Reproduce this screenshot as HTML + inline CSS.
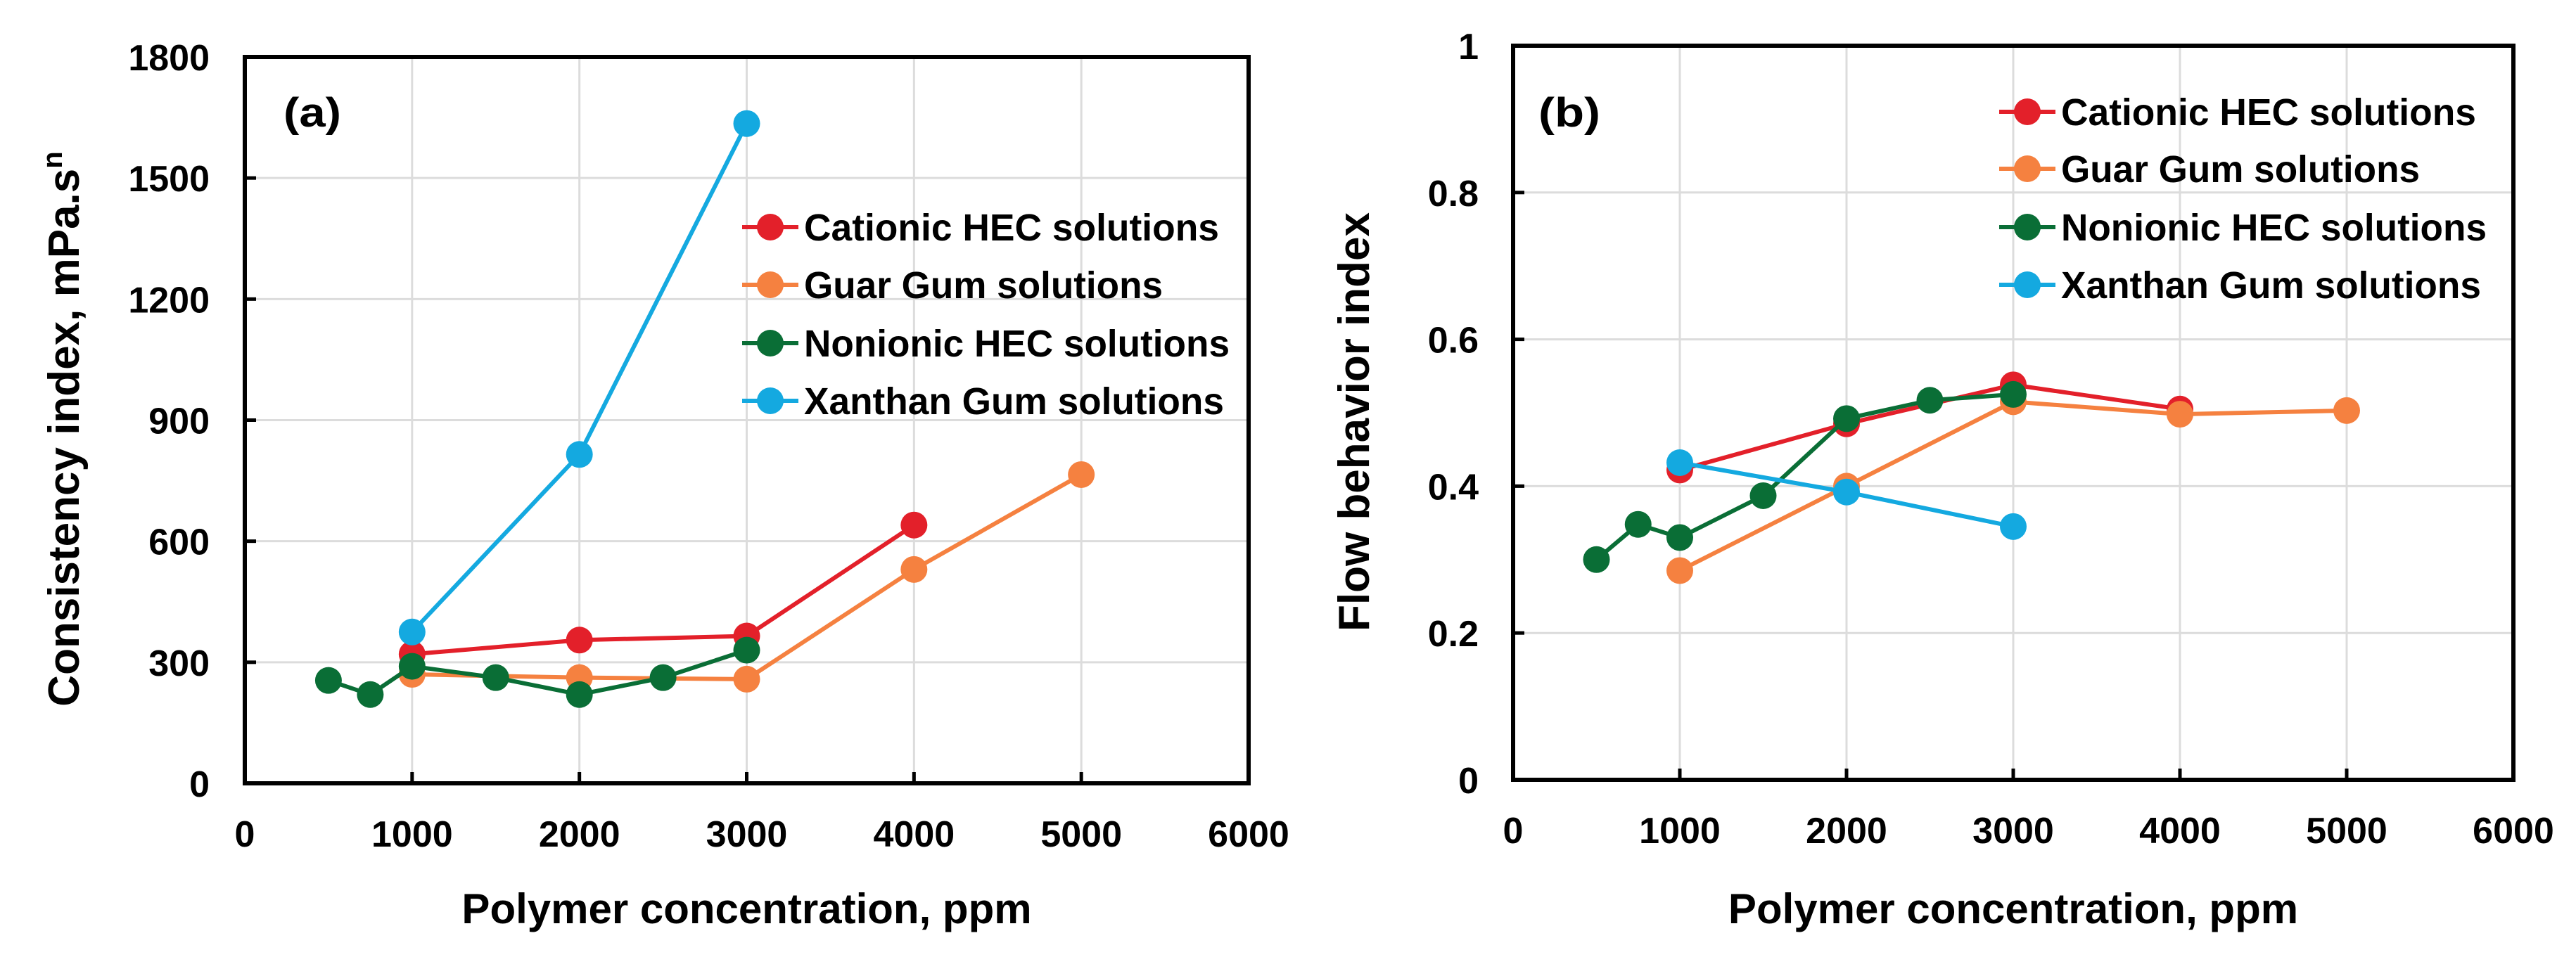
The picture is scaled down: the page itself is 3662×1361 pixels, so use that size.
<!DOCTYPE html>
<html><head><meta charset="utf-8"><style>
html,body{margin:0;padding:0;background:#fff;}
svg{display:block;font-family:"Liberation Sans",Arial,sans-serif;font-weight:bold;}
</style></head><body>
<svg id="chart" width="3662" height="1361" viewBox="0 0 3662 1361" xmlns="http://www.w3.org/2000/svg"></svg>
<script>
const xTicks=[0,1000,2000,3000,4000,5000,6000];
const seriesNames=["Cationic HEC solutions","Guar Gum solutions","Nonionic HEC solutions","Xanthan Gum solutions"];
const seriesColors=["#E3202A","#F58140","#0A6E36","#14A9E0"];
const aTicks=[0,300,600,900,1200,1500,1800];
const aCatX=[1000,2000,3000,4000];
const aCatY=[320,355,365,640];
const aGuarX=[1000,2000,3000,4000,5000];
const aGuarY=[270,262,258,530,765];
const aNonX=[500,750,1000,1500,2000,2500,3000];
const aNonY=[255,220,290,262,220,262,330];
const aXanX=[1000,2000,3000];
const aXanY=[375,815,1635];
const bTicks=[0,0.2,0.4,0.6,0.8,1];
const bTickLabels=["0","0.2","0.4","0.6","0.8","1"];
const bCatX=[1000,2000,3000,4000];
const bCatY=[0.422,0.485,0.538,0.505];
const bGuarX=[1000,2000,3000,4000,5000];
const bGuarY=[0.285,0.40,0.515,0.498,0.503];
const bNonX=[500,750,1000,1500,2000,2500,3000];
const bNonY=[0.30,0.348,0.33,0.387,0.492,0.517,0.525];
const bXanX=[1000,2000,3000];
const bXanY=[0.432,0.392,0.345];

const NS="http://www.w3.org/2000/svg";
const svg=document.getElementById('chart');
function mk(tag,attrs,parent){const e=document.createElementNS(NS,tag);for(const k in attrs)e.setAttribute(k,attrs[k]);(parent||svg).appendChild(e);return e;}

function panel(cfg){
  const g=mk('g',{});
  
  
  const L=cfg.L,R=cfg.R,T=cfg.T,B=cfg.B;
  const xs=v=>L+(v-0)/6000*(R-L);
  const ys=v=>B-(v-cfg.ymin)/(cfg.ymax-cfg.ymin)*(B-T);
  xTicks.forEach(t=>{if(t>0&&t<6000){const l=mk('line',{x1:xs(t),x2:xs(t),y1:T,y2:B,stroke:'#dcdcdc','stroke-width':3},g);
    }});
  cfg.yt.forEach(t=>{if(t>cfg.ymin&&t<cfg.ymax){const l=mk('line',{x1:L,x2:R,y1:ys(t),y2:ys(t),stroke:'#dcdcdc','stroke-width':3},g);
    }});
  xTicks.forEach(t=>{const l=mk('line',{x1:xs(t),x2:xs(t),y1:B,y2:B-16,stroke:'#000','stroke-width':5},g);
    
    const tx=mk('text',{x:xs(t),y:B+90,'text-anchor':'middle','font-size':52},g);tx.textContent=String(t);
    });
  cfg.yt.forEach((t,i)=>{const l=mk('line',{x1:L,x2:L+16,y1:ys(t),y2:ys(t),stroke:'#000','stroke-width':5},g);
    
    const tx=mk('text',{x:cfg.ylabX,y:ys(t)+19,'text-anchor':'end','font-size':52},g);tx.textContent=cfg.ytl[i];
    });
  const f=mk('rect',{x:L,y:T,width:R-L,height:B-T,fill:'none',stroke:'#000','stroke-width':6},g);
  
  cfg.series.forEach((s,i)=>{
    const sg=mk('g',{},g);
    
    
    const pts=s.x.map((v,j)=>xs(v)+','+ys(s.y[j])).join(' ');
    const pl=mk('polyline',{points:pts,fill:'none',stroke:seriesColors[i],'stroke-width':6,'stroke-linejoin':'round'},sg);
    
    s.x.forEach((v,j)=>{const c=mk('circle',{cx:xs(v),cy:ys(s.y[j]),r:19,fill:seriesColors[i]},sg);
      });
  });
  seriesNames.forEach((n,i)=>{
    const lg=mk('g',{},g);
    
    const y=cfg.legY[i];
    mk('line',{x1:cfg.legX-40,x2:cfg.legX+40,y1:y,y2:y,stroke:seriesColors[i],'stroke-width':6},lg);
    mk('circle',{cx:cfg.legX,cy:y,r:19,fill:seriesColors[i]},lg);
    const tx=mk('text',{x:cfg.legX+48,y:y+19,'font-size':54,textLength:cfg.legW[i],lengthAdjust:'spacingAndGlyphs'},lg);
    tx.textContent=n;
  });
  const pl=mk('text',{x:cfg.panX,y:cfg.panY,'font-size':58,textLength:cfg.panW,lengthAdjust:'spacingAndGlyphs'},g);
  pl.textContent=cfg.panel;
  
  const xt=mk('text',{x:(L+R)/2,y:1313,'text-anchor':'middle','font-size':60},g);
  xt.textContent='Polymer concentration, ppm';
  
  const yt=mk('text',{x:0,y:0,'text-anchor':'middle','font-size':62,transform:'translate('+cfg.ytX+','+cfg.ytY+') rotate(-90)'},g);
  
  if(cfg.sup){yt.textContent=cfg.ytitle;const ts=mk('tspan',{'font-size':40,dy:-24},yt);ts.textContent='n';}
  else yt.textContent=cfg.ytitle;
}

panel({name:'panel-a-consistency-index',L:348,R:1775,T:81,B:1114,ymin:0,ymax:1800,yt:aTicks,ytl:aTicks.map(String),ylabX:298,
  series:[{x:aCatX,y:aCatY},{x:aGuarX,y:aGuarY},{x:aNonX,y:aNonY},{x:aXanX,y:aXanY}],
  legX:1095,legY:[323,405,488,570],legW:[590,510,605,597],
  panel:'(a)',panX:403,panY:180,panW:82,
  ytitle:'Consistency index, mPa.s',sup:true,ytX:112,ytY:610});
panel({name:'panel-b-flow-behavior-index',L:2151,R:3573,T:65,B:1109,ymin:0,ymax:1,yt:bTicks,ytl:bTickLabels,ylabX:2102,
  series:[{x:bCatX,y:bCatY},{x:bGuarX,y:bGuarY},{x:bNonX,y:bNonY},{x:bXanX,y:bXanY}],
  legX:2882,legY:[159,240,323,405],legW:[590,510,605,597],
  panel:'(b)',panX:2187,panY:180,panW:88,
  ytitle:'Flow behavior index',sup:false,ytX:1946,ytY:600});
</script>
</body></html>
